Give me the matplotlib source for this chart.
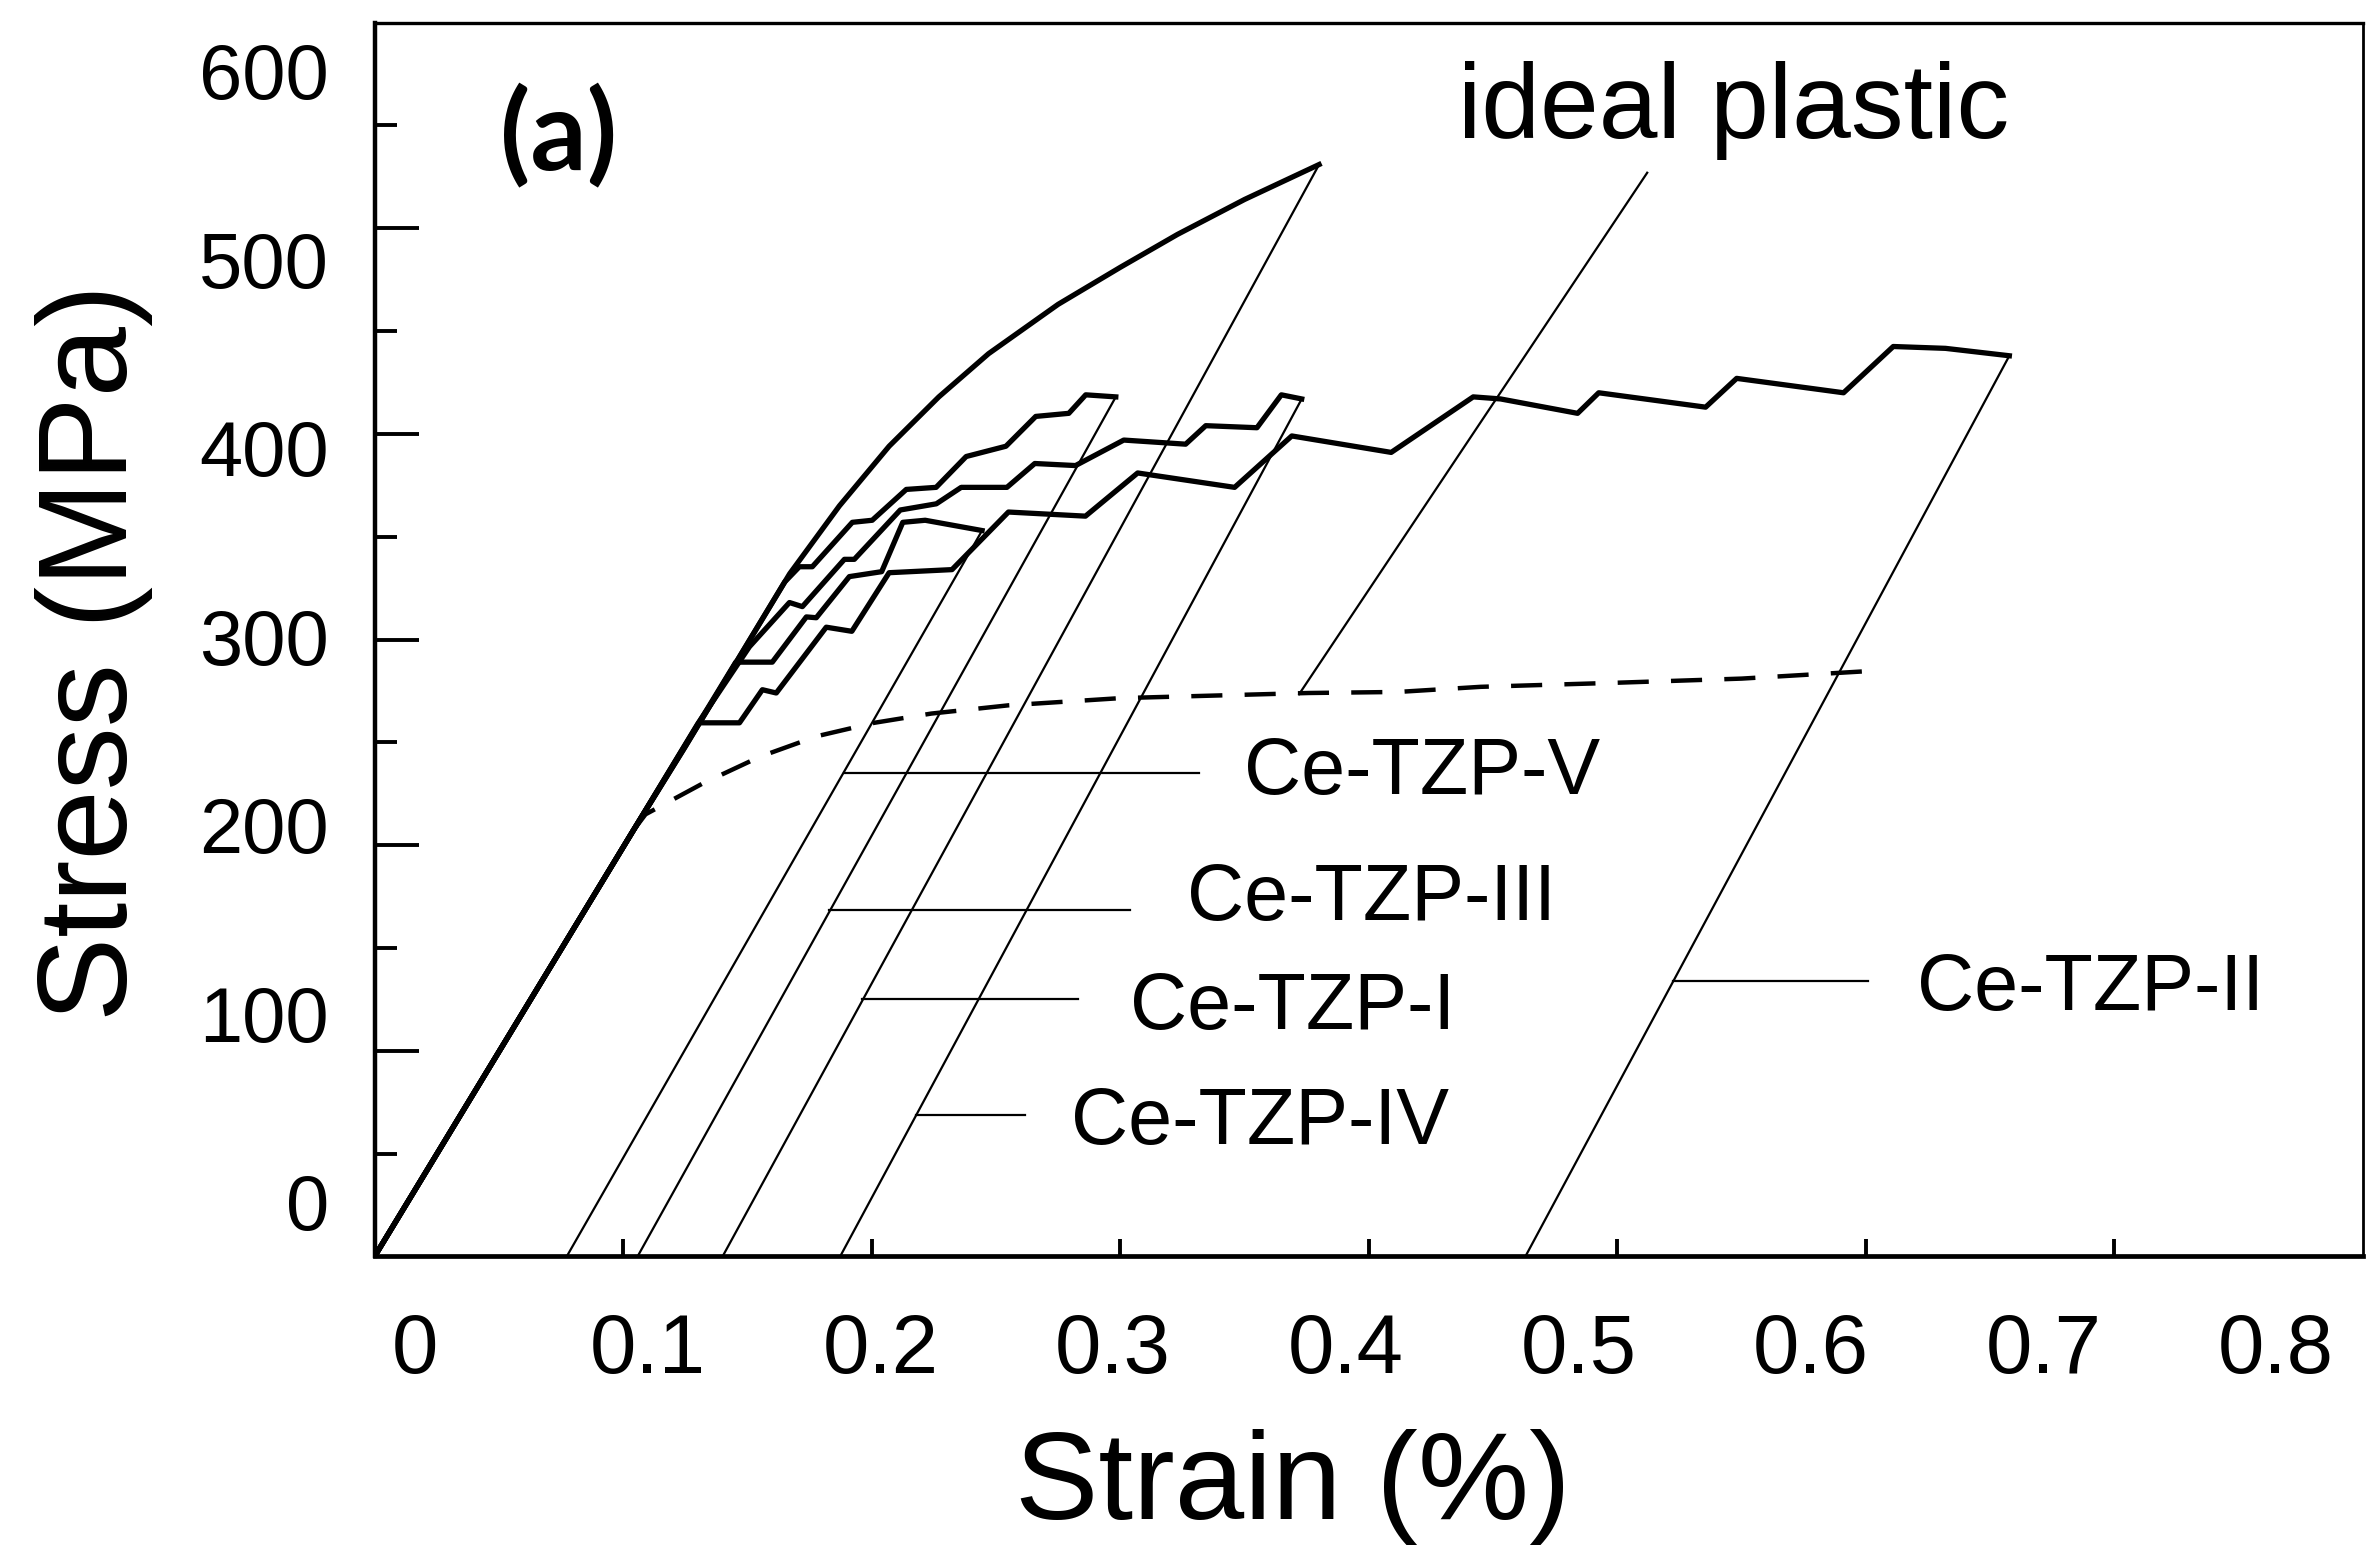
import numpy as np
import matplotlib.pyplot as plt

plt.rcParams['font.family'] = ['Liberation Sans', 'DejaVu Sans']

#######################################
# data (strain %, stress MPa)
#######################################
strain_I = [0, 0.104, 0.124, 0.147, 0.167, 0.187, 0.207, 0.227, 0.247, 0.275, 0.300, 0.323, 0.350, 0.380]
stress_I = [0, 207, 246, 292, 332, 365, 394, 418, 439, 463, 481, 497, 514, 531]

strain_III = [0, 0.104, 0.125, 0.145, 0.165, 0.1709, 0.1761, 0.1922, 0.2002, 0.2139, 0.2259, 0.238,
              0.254, 0.266, 0.2793, 0.2861, 0.2982]
stress_III = [0, 207, 248, 288, 328, 335.4, 335.4, 357, 358, 373, 374, 389,
              394, 408.5, 410, 419, 418]

strain_IV = [0, 0.104, 0.130, 0.1508, 0.1669, 0.1721, 0.189, 0.193, 0.2115, 0.226, 0.236, 0.2544,
             0.2656, 0.282, 0.3014, 0.3263, 0.3344, 0.355, 0.3648, 0.373]
stress_IV = [0, 207, 259, 296.5, 318, 316, 339, 339, 363, 366, 374, 374,
             385.6, 384.6, 397, 395, 404, 403, 419, 417]

strain_V = [0, 0.104, 0.1453, 0.160, 0.1737, 0.1777, 0.191, 0.204, 0.2125, 0.2215, 0.2444]
stress_V = [0, 207, 289, 289, 311, 310.6, 330.6, 333, 357, 358, 353]

strain_II = [0, 0.104, 0.1305, 0.1468, 0.156, 0.1616, 0.1817, 0.192, 0.207, 0.2323, 0.255, 0.286,
             0.307, 0.346, 0.369, 0.409, 0.442, 0.453, 0.484, 0.4925, 0.5355, 0.548, 0.591,
             0.611, 0.632, 0.6577]
stress_II = [0, 207, 259.5, 259.5, 275.6, 274, 306, 304, 332.5, 334, 362, 360,
             381, 374, 399, 391, 418, 417, 410, 420, 413, 427, 420,
             442.5, 441.6, 438]

# residual strain after unloading
resid = {'I': 0.140, 'II': 0.463, 'III': 0.1058, 'IV': 0.1873, 'V': 0.0773}

# ideal plastic (dashed)
strain_ideal = [0.104, 0.109, 0.132, 0.155, 0.178, 0.201, 0.224, 0.255, 0.300, 0.3757, 0.4116,
                0.445, 0.500, 0.550, 0.606]
stress_ideal = [207, 215, 230, 243, 253, 259.5, 264, 268, 271.5, 274, 274.5,
                277, 279, 281, 285]

# labels: name, text x, text y, leader x0, leader x1, leader y
labels = [
    ('Ce-TZP-V', 0.3497, 235, 0.189, 0.3315, 235),
    ('Ce-TZP-III', 0.3267, 173.5, 0.183, 0.304, 168.4),
    ('Ce-TZP-I', 0.304, 120.6, 0.196, 0.283, 125),
    ('Ce-TZP-IV', 0.280, 64.7, 0.218, 0.2618, 69),
    ('Ce-TZP-II', 0.6206, 130, 0.5225, 0.601, 133.8),
]

# tick marks of the frame
strain_ticks = np.arange(1, 8) / 10
stress_major = np.arange(100, 600, 100)
stress_minor = np.arange(50, 600, 100)

# printed tick labels
strain_label_vals = np.arange(0, 9) / 10
strain_label_txt = ['0', '0.1', '0.2', '0.3', '0.4', '0.5', '0.6', '0.7', '0.8']
stress_label_vals = np.arange(0, 601, 100)
stress_label_txt = ['0', '100', '200', '300', '400', '500', '600']

#######################################
# plot
#######################################
fig = plt.figure(figsize=(23.68, 15.5), dpi=100)
rect = [0.1582, 0.1894, 0.9979 - 0.1582, 0.9854 - 0.1894]
ax = fig.add_axes(rect)

curve_lw = 3.8
for sx, sy, key in [(strain_II, stress_II, 'II'), (strain_V, stress_V, 'V'),
                    (strain_IV, stress_IV, 'IV'), (strain_III, stress_III, 'III'),
                    (strain_I, stress_I, 'I')]:
    ax.plot(sx, sy, color='black', lw=curve_lw, solid_joinstyle='round')
    ax.plot([sx[-1], resid[key]], [sy[-1], 0], color='black', lw=1.6)

ax.plot(strain_ideal, stress_ideal, color='black', lw=3.2, dashes=(7, 5))

for name, tx, ty, x0, x1, ly in labels:
    ax.plot([x0, x1], [ly, ly], color='black', lw=1.6)
    ax.text(tx, ty, name, fontsize=57, ha='left', va='center')

# ideal plastic pointer
ax.plot([0.512, 0.372], [527, 273.5], color='black', lw=1.6)
ax.text(0.436, 544, 'ideal plastic', fontsize=76, ha='left', va='baseline')
ax.text(0.0741, 545, '(a)', fontsize=80, fontweight='bold', ha='center', va='center',
        family=['Lato', 'DejaVu Sans'])

ax.set_xlim(0, 0.8)
ax.set_ylim(0, 600)
ax.set_xticks(strain_ticks)
ax.set_yticks(stress_major)
ax.set_yticks(stress_minor, minor=True)
ax.set_xticklabels([])
ax.set_yticklabels([])
ax.tick_params(axis='y', which='major', direction='in', length=32, width=2.8)
ax.tick_params(axis='y', which='minor', direction='in', length=16, width=2.8)
ax.tick_params(axis='x', which='major', direction='in', length=12, width=2.8)
ax.tick_params(axis='x', which='minor', length=0)
ax.spines['left'].set_linewidth(3.2)
ax.spines['bottom'].set_linewidth(3.4)
ax.spines['top'].set_linewidth(2.4)
ax.spines['right'].set_linewidth(2.0)

# the printed tick labels sit on a slightly compressed scale
lab = fig.add_axes(rect, frameon=False)
lab.patch.set_visible(False)
lab.set_xlim(-0.0175, 0.8374)
lab.set_ylim(-28.9, 625.4)
lab.set_xticks(strain_label_vals)
lab.set_xticklabels(strain_label_txt, fontsize=60)
lab.set_yticks(stress_label_vals)
lab.set_yticklabels(stress_label_txt, fontsize=56)
lab.tick_params(axis='x', length=0, pad=40)
lab.tick_params(axis='y', length=0, pad=33)

fig.text(94 / 2368, 1 - 652 / 1550, 'Stress (MPa)', fontsize=91, rotation=90,
         ha='center', va='center')
fig.text(1293 / 2368, 1 - 1487 / 1550, 'Strain (%)', fontsize=90, ha='center', va='center')

plt.savefig('out.png', dpi=100)
